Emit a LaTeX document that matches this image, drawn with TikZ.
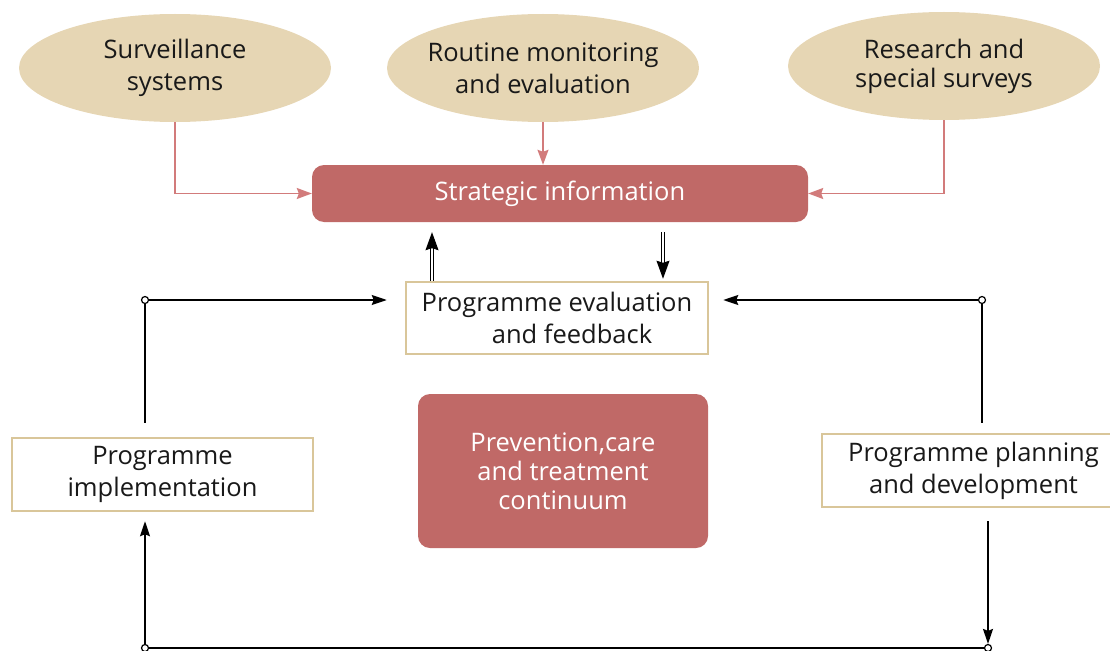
\documentclass[tikz,border=0pt]{standalone}
\usepackage{fontspec}
\setmainfont{Open Sans}
\usetikzlibrary{shapes.geometric,arrows.meta}
\definecolor{sand}{HTML}{E6D6B4}
\definecolor{rose}{HTML}{C06967}
\definecolor{roseline}{HTML}{D27B7B}
\definecolor{straw}{HTML}{D9C69A}
\tikzstyle{every node}=[align=center,font=\fontsize{25.5}{32}\selectfont,text=black!90]
\tikzstyle{source}=[ellipse,fill=sand,minimum width=312pt,minimum height=108pt,inner xsep=-30pt,inner ysep=0pt]
\tikzstyle{core}=[rectangle,rounded corners=12pt,fill=rose,text=white]
\tikzstyle{stage}=[rectangle,draw=straw,line width=2.5pt,fill=white,minimum width=301pt,minimum height=73pt,inner sep=0pt]
\tikzstyle{dot}=[circle,draw=black,fill=white,line width=1.2pt,minimum size=7pt,inner sep=0pt]
\tikzstyle{feed}=[draw=roseline,line width=1.5pt,-{Stealth[length=15pt,width=11pt,inset=2pt]}]
\tikzstyle{flow}=[draw=black,line width=1.5pt]
\tikzstyle{tip}=[-{Stealth[length=15pt,width=10pt,inset=2pt]}]
\tikzstyle{twin}=[draw=black,double,double distance=1.6pt,line width=1pt,-{Stealth[length=18pt,width=13pt,inset=2pt]}]

\begin{document}
\begin{tikzpicture}[x=1pt,y=-1pt]
    \useasboundingbox (0,0) rectangle (1110,650);
    % sources of strategic information
    \node[source] (surv) at (175,68) {Surveillance\\systems};
    \node[source] (routine) at (543,68) {Routine monitoring\\and evaluation};
    \node[source,font=\fontsize{25.5}{29}\selectfont] (research) at (944,66) {Research and\\special surveys};
    \node[core,minimum width=496pt,minimum height=57pt] (strat) at (560,193.5) {Strategic information};
    % programme cycle
    \node[stage,minimum width=302pt,minimum height=72pt] (eval) at (557,318) {Programme evaluation\\\hspace*{30pt}and feedback};
    \node[stage] (impl) at (162.5,474.5) {Programme\\implementation};
    \node[stage,minimum width=303pt] (plan) at (973.5,470.5) {Programme planning\\and development};
    \node[core,minimum width=290pt,minimum height=154pt,font=\fontsize{25.5}{29}\selectfont] (care) at (563,471) {Prevention,care\\and treatment\\continuum};
    \node[dot] (tl) at (145,300) {};
    \node[dot] (tr) at (982,300) {};
    \node[dot] (bl) at (145,648) {};
    \node[dot] (br) at (988,648) {};
    \coordinate (up) at (432,0);
    \coordinate (down) at (663,0);

    \draw[feed] (surv.south) |- (strat.west);
    \draw[feed] (routine.south) -- (routine.south |- strat.north);
    \draw[feed] (research.south) |- (strat.east);
    \draw[twin,shorten >=10pt] (eval.north -| up) -- (strat.south -| up);
    \draw[twin,shorten <=10pt,shorten >=2pt] (strat.south -| down) -- (eval.north -| down);
    % feedback loop
    \draw[flow,shorten <=14pt] (impl.north -| tl) -- (tl);
    \draw[flow,tip,shorten >=18pt] (tl) -- (eval.west |- tl);
    \draw[flow,shorten <=10pt] (plan.north -| tr) -- (tr);
    \draw[flow,tip,shorten >=14pt] (tr) -- (eval.east |- tr);
    \draw[flow,tip,shorten >=9pt] (bl) -- (impl.south -| bl);
    \draw[flow] (bl) -- (br);
    \draw[flow,tip,shorten <=13pt] (plan.south -| br) -- (br);
\end{tikzpicture}
\end{document}
